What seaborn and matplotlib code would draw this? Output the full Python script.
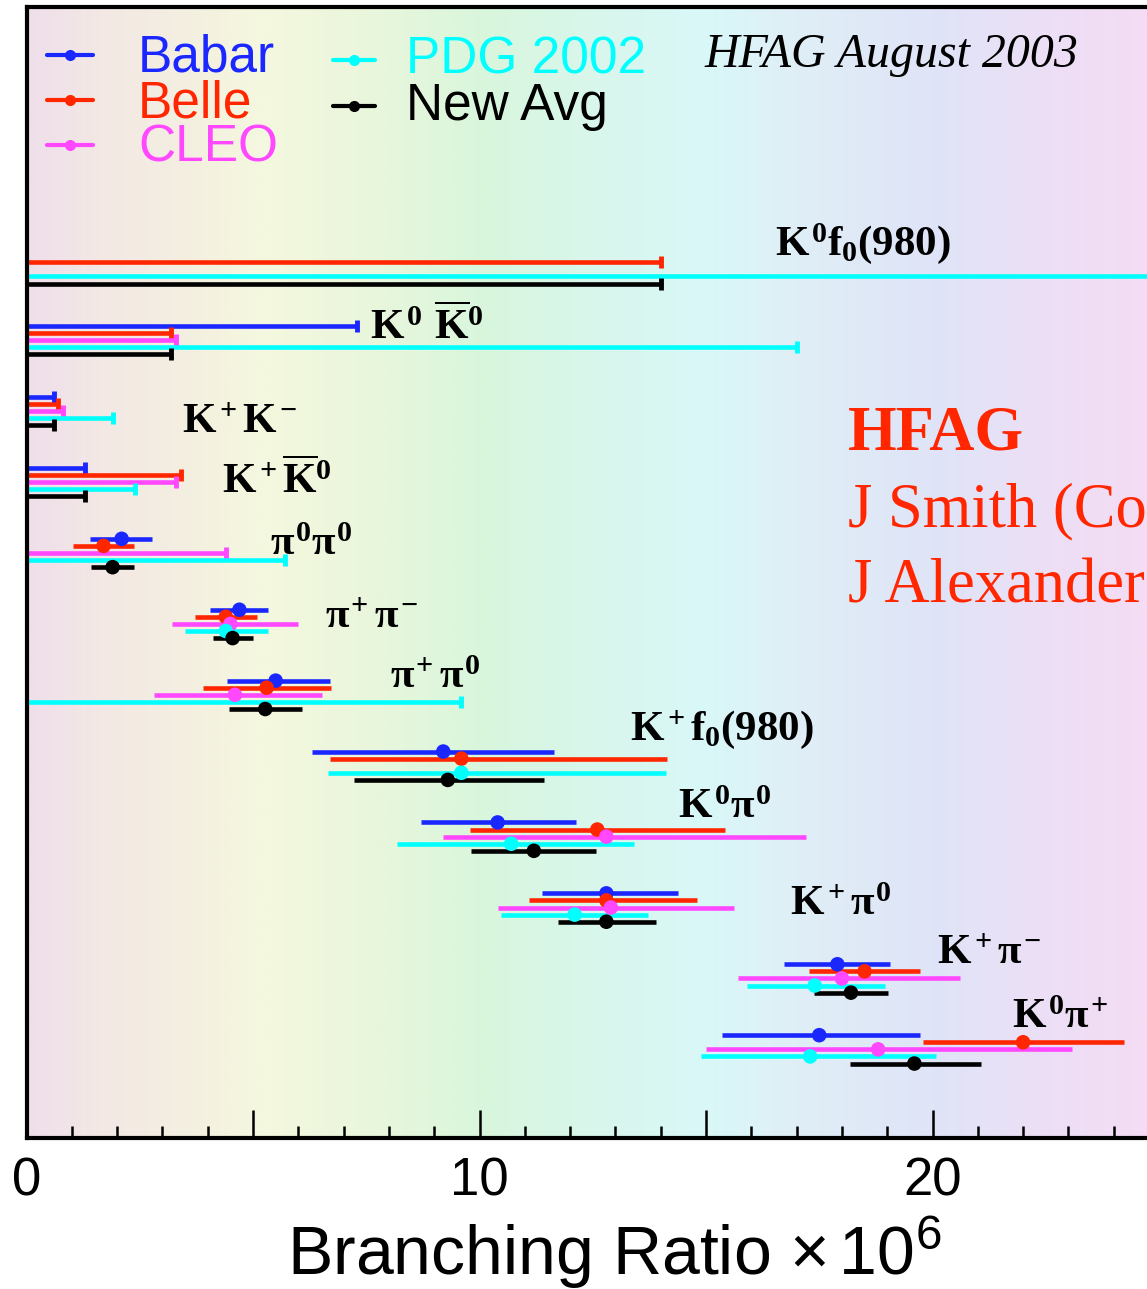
import numpy as np
import pandas as pd
import matplotlib
matplotlib.use("Agg")
import matplotlib.pyplot as plt
from matplotlib.colors import LinearSegmentedColormap
from matplotlib.ticker import MultipleLocator, FuncFormatter
from matplotlib.lines import Line2D
import seaborn as sns

nan = np.nan

# Decay modes, top to bottom
modes = ["K0f0", "K0K0bar", "KpKm", "KpK0bar", "pi0pi0", "pippim", "pippi0",
         "Kpf0", "K0pi0", "Kppi0", "Kppim", "K0pip"]
mode_labels = [r"$K^0f_0(980)$", r"$K^0\ \overline{K}^0$", r"$K^{\!+}K^{\!-}$",
               r"$K^{\!+}\overline{K}^0$", r"$\pi^0\pi^0$", r"$\pi^{\!+}\pi^{\!-}$",
               r"$\pi^{\!+}\pi^0$", r"$K^{\!+}f_0(980)$", r"$K^0\pi^0$",
               r"$K^{\!+}\pi^0$", r"$K^{\!+}\pi^{\!-}$", r"$K^0\pi^{\!+}$"]
experiments = ["Babar", "Belle", "CLEO", "PDG 2002", "New Avg"]

# Branching ratios (x 1e-6): central value, minus / plus error, upper limit
babar_value = [nan, nan, nan, nan, 2.1, 4.7, 5.5, 9.2, 10.4, 12.8, 17.9, 17.5]
babar_err_lo = [nan, nan, nan, nan, 0.70, 0.65, 1.08, 2.90, 1.70, 1.42, 1.18, 2.14]
babar_err_hi = [nan, nan, nan, nan, 0.66, 0.64, 1.20, 2.45, 1.74, 1.58, 1.16, 2.22]
babar_limit = [nan, 7.3, 0.6, 1.3, nan, nan, nan, nan, nan, nan, nan, nan]

belle_value = [nan, nan, nan, nan, 1.7, 4.4, 5.3, 9.6, 12.6, 12.8, 18.5, 22.0]
belle_err_lo = [nan, nan, nan, nan, 0.68, 0.67, 1.40, 2.90, 2.80, 1.70, 1.23, 2.20]
belle_err_hi = [nan, nan, nan, nan, 0.68, 0.69, 1.42, 4.53, 2.82, 2.00, 1.23, 2.23]
belle_limit = [14.0, 3.2, 0.7, 3.4, nan, nan, nan, nan, nan, nan, nan, nan]

cleo_value = [nan, nan, nan, nan, nan, 4.5, 4.6, nan, 12.8, 12.9, 18.0, 18.8]
cleo_err_lo = [nan, nan, nan, nan, nan, 1.28, 1.78, nan, 3.60, 2.49, 2.29, 3.80]
cleo_err_hi = [nan, nan, nan, nan, nan, 1.50, 1.93, nan, 4.40, 2.72, 2.61, 4.29]
cleo_limit = [nan, 3.3, 0.8, 3.3, 4.4, nan, nan, nan, nan, nan, nan, nan]

pdg_value = [nan, nan, nan, nan, nan, 4.4, nan, 9.6, 10.7, 12.1, 17.4, 17.3]
pdg_err_lo = [nan, nan, nan, nan, nan, 0.90, nan, 2.95, 2.53, 1.63, 1.50, 2.40]
pdg_err_hi = [nan, nan, nan, nan, nan, 0.94, nan, 4.52, 2.72, 1.63, 1.55, 2.78]
pdg_limit = [36.0, 17.0, 1.9, 2.4, 5.7, nan, 9.6, nan, nan, nan, nan, nan]

avg_value = [nan, nan, nan, nan, 1.9, 4.55, 5.27, 9.3, 11.2, 12.8, 18.2, 19.6]
avg_err_lo = [nan, nan, nan, nan, 0.48, 0.44, 0.81, 2.06, 1.38, 1.06, 0.81, 1.43]
avg_err_hi = [nan, nan, nan, nan, 0.47, 0.44, 0.81, 2.13, 1.38, 1.10, 0.81, 1.48]
avg_limit = [14.0, 3.2, 0.6, 1.3, nan, nan, nan, nan, nan, nan, nan, nan]

xticks_labelled = [0, 10, 20]

colors = {"Babar": "#1a28ff", "Belle": "#ff2600", "CLEO": "#ff48ff",
          "PDG 2002": "#00ffff", "New Avg": "#000000"}

# ---- long-form table -------------------------------------------------------
series = {
    "Babar": (babar_value, babar_err_lo, babar_err_hi, babar_limit),
    "Belle": (belle_value, belle_err_lo, belle_err_hi, belle_limit),
    "CLEO": (cleo_value, cleo_err_lo, cleo_err_hi, cleo_limit),
    "PDG 2002": (pdg_value, pdg_err_lo, pdg_err_hi, pdg_limit),
    "New Avg": (avg_value, avg_err_lo, avg_err_hi, avg_limit),
}
rows = []
for slot, exp in enumerate(experiments):
    val, elo, ehi, lim = series[exp]
    for i, m in enumerate(modes):
        rows.append(dict(mode=m, experiment=exp, value=val[i], err_lo=elo[i],
                         err_hi=ehi[i], limit=lim[i], ypos=10 * i + slot))
df = pd.DataFrame(rows)

# ---- style -----------------------------------------------------------------
sns.set_theme(style="ticks")
plt.rcParams["font.family"] = ["Liberation Sans", "DejaVu Sans"]
plt.rcParams["text.color"] = "black"
plt.rcParams["axes.labelcolor"] = "black"
plt.rcParams["xtick.color"] = "black"
plt.rcParams["axes.edgecolor"] = "black"
plt.rcParams["mathtext.fontset"] = "custom"
plt.rcParams["mathtext.rm"] = "Liberation Serif:bold"
plt.rcParams["mathtext.it"] = "Liberation Serif:bold"
plt.rcParams["mathtext.bf"] = "Liberation Serif:bold"

W, H = 1147, 1289
fig = plt.figure(figsize=(W / 100, H / 100), dpi=100)
fig.patch.set_facecolor("white")

XMAX = 26.0
YTOP, YBOT = -35.0, 124.5
ax = fig.add_axes([26.5 / W, 151 / H, 45.3 * XMAX / W, 1131 / H])
ax.set_xlim(0, XMAX)
ax.set_ylim(YBOT, YTOP)

# pastel rainbow backdrop
bg = LinearSegmentedColormap.from_list("bg", [
    (0.00, "#efdfea"), (0.06, "#f3e8e5"), (0.14, "#f4f0e0"), (0.20, "#f4f8df"),
    (0.28, "#ebf6dc"), (0.385, "#d9f7dc"), (0.47, "#d8f6ea"), (0.575, "#d9f8f8"),
    (0.66, "#e0eef6"), (0.77, "#dfe4f8"), (0.85, "#ebe0f6"), (0.95, "#f4dcf4"),
    (1.00, "#f5dcf4")])
ax.imshow(np.linspace(0, 1, 512)[None, :], cmap=bg, aspect="auto",
          extent=(0, XMAX, YBOT, YTOP), zorder=0, interpolation="bilinear")

LW = 3.3
# upper limits: bar from zero with an end cap
lim_df = df[df["limit"].notna()]
for _, r in lim_df.iterrows():
    c = colors[r.experiment]
    ax.hlines(r.ypos, 0, r.limit, color=c, lw=LW, zorder=2)
    ax.plot([r.limit], [r.ypos], marker="|", ms=9, mew=3.5, color=c, zorder=2)

# measurements: error bar with a dot at the central value
meas_df = df[df["value"].notna()]
for _, r in meas_df.iterrows():
    ax.hlines(r.ypos, r.value - r.err_lo, r.value + r.err_hi,
              color=colors[r.experiment], lw=LW, zorder=3)
sns.scatterplot(data=meas_df, x="value", y="ypos", hue="experiment",
                palette=colors, s=110, edgecolor="none", legend=False,
                ax=ax, zorder=4)

# decay-mode labels
label_x = [16.52, 7.58, 3.43, 4.32, 5.38, 6.59, 8.02, 13.32, 14.38, 16.85, 20.1, 21.76]
label_y = [0.0, 11.85, 25.1, 33.6, 42.3, 52.6, 61.1, 68.4, 79.4, 93.1, 99.9, 109.0]
for txt, lx, ly in zip(mode_labels, label_x, label_y):
    ax.text(lx, ly, txt, fontsize=31, va="baseline", ha="left", zorder=5)

# axes frame and ticks
for side in ("left", "top", "bottom"):
    ax.spines[side].set_linewidth(3.0)
    ax.spines[side].set_color("black")
ax.spines["right"].set_visible(False)
ax.set_yticks([])
ax.xaxis.set_major_locator(MultipleLocator(5))
ax.xaxis.set_minor_locator(MultipleLocator(1))
ax.xaxis.set_major_formatter(FuncFormatter(
    lambda v, p: f"{int(round(v))}" if int(round(v)) in xticks_labelled else ""))
ax.tick_params(axis="x", which="major", direction="in", length=20, width=1.8,
               labelsize=38, pad=13, top=False, colors="black")
ax.tick_params(axis="x", which="minor", direction="in", length=9, width=1.8,
               top=False, colors="black")
ax.set_ylabel("")
ax.set_xlabel(r"Branching Ratio $\mathregular{\times\,10^6}$", fontsize=49,
              color="black")
ax.xaxis.set_label_coords(0.499, -0.121)
ax.xaxis.label.set_va("baseline")

# legend, drawn entry by entry
def fx(px):
    return px / W

def fy(py):
    return 1 - py / H

leg_font = 37
col1 = [("Babar", 55, 72), ("Belle", 100, 117), ("CLEO", 145, 162)]
col2 = [("PDG 2002", 60, 73), ("New Avg", 106, 120)]
for entries, x0, x1, xt in ((col1, 47, 93, 138), (col2, 333, 375, 406)):
    for name, yl, yb in entries:
        c = colors[name]
        fig.add_artist(Line2D([fx(x0), fx(x1)], [fy(yl), fy(yl)], color=c, lw=3.0,
                              transform=fig.transFigure))
        fig.add_artist(Line2D([fx((x0 + x1) / 2)], [fy(yl)], color=c, marker="o",
                              ms=8, mew=0, transform=fig.transFigure))
        fig.text(fx(xt), fy(yb), name, color=c, fontsize=leg_font, va="baseline")

fig.text(fx(705), fy(67), "HFAG August 2003", fontsize=34.5, style="italic",
         family=["Liberation Serif", "DejaVu Serif"], va="baseline")

red = "#ff2600"
fig.text(fx(848), fy(450), "HFAG", fontsize=45, weight="bold", color=red,
         family=["Liberation Serif", "DejaVu Serif"], va="baseline")
fig.text(fx(848), fy(527), "J Smith (Colorado)", fontsize=45, color=red,
         family=["Liberation Serif", "DejaVu Serif"], va="baseline")
fig.text(fx(848), fy(602), "J Alexander (Cornell)", fontsize=45, color=red,
         family=["Liberation Serif", "DejaVu Serif"], va="baseline")

fig.savefig("out.png", dpi=100)
